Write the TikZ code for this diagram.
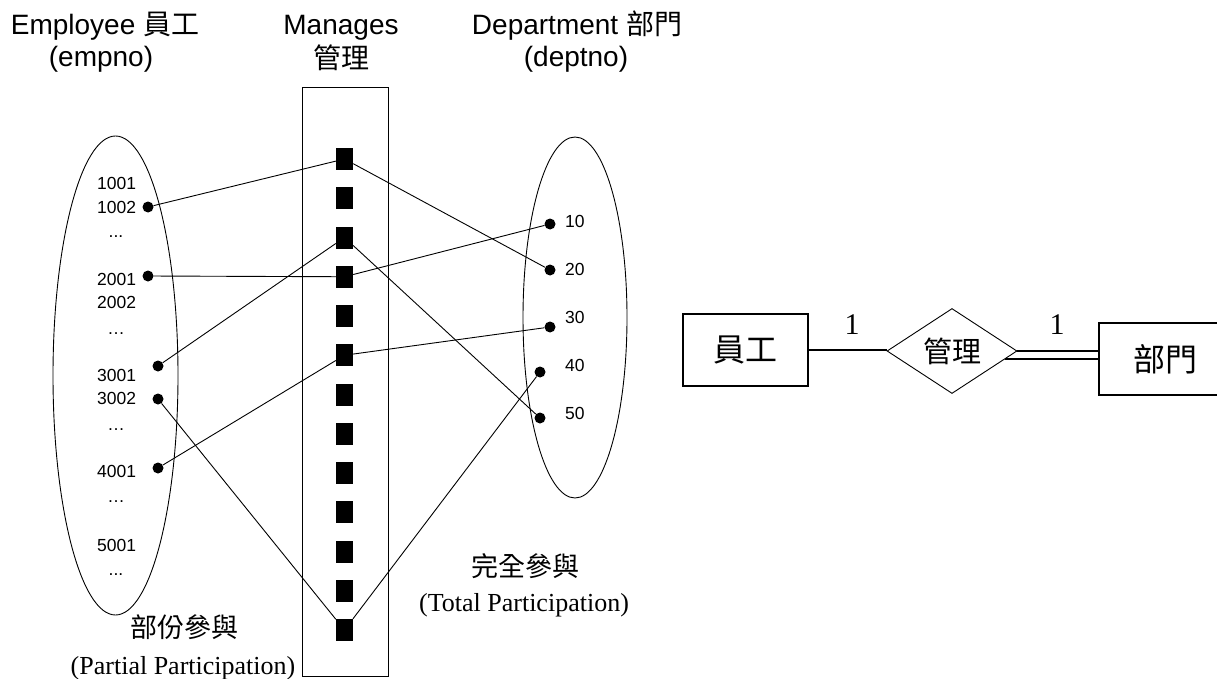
\documentclass[tikz,border=0pt]{standalone}
\usepackage{fontspec}
\setmainfont{Liberation Serif}
\setsansfont{Liberation Sans}
\newfontfamily\cjk{Noto Sans CJK TC}
\usetikzlibrary{shapes.geometric,calc}

\tikzset{
  lab/.style={font=\sffamily\fontsize{28}{32}\selectfont, inner sep=0, anchor=base},
  num/.style={font=\sffamily\fontsize{17.5}{20}\selectfont, inner sep=0, anchor=base west},
  ell/.style={num, anchor=base},
  pt/.style={circle, fill, inner sep=0, minimum size=11},
  sq/.style={fill, inner sep=0, minimum width=17, minimum height=22},
  link/.style={line width=0.9},
  set/.style={draw, ellipse, line width=0.9, inner sep=0},
  note/.style={inner sep=0, anchor=base},
  entity/.style={draw, line width=1.6, inner sep=0, font=\cjk\fontsize{32}{36}\selectfont},
  card/.style={inner sep=0, font=\fontsize{30}{34}\selectfont},
}

\begin{document}
\begin{tikzpicture}[x=1pt, y=-1pt]
\useasboundingbox (0,0) rectangle (1217,679);
\clip (0,0) rectangle (1217,679);

% column headings
\node[lab] (hEmp)  at (105,35) {Employee {\cjk 員工}};
\node[lab] (hEmp2) at (101,67) {(empno)};
\node[lab] (hMgr)  at (341,35) {Manages};
\node[lab] (hMgr2) at (341,69) {\cjk 管理};
\node[lab] (hDep)  at (577,35) {Department {\cjk 部門}};
\node[lab] (hDep2) at (576,67) {(deptno)};

% employee set
\node[set, minimum width=125, minimum height=479] (empSet) at (115.5,375.5) {};
\node[num] (n1001) at (97,189.5) {1001};
\node[num] (n1002) at (97,213) {1002};
\node[ell] (d1)    at (116,237) {...};
\node[num] (n2001) at (97,285) {2001};
\node[num] (n2002) at (97,308) {2002};
\node[ell] (d2)    at (116,334) {…};
\node[num] (n3001) at (97,381) {3001};
\node[num] (n3002) at (97,404) {3002};
\node[ell] (d3)    at (116,430) {…};
\node[num] (n4001) at (97,477) {4001};
\node[ell] (d4)    at (116,502) {…};
\node[num] (n5001) at (97,551) {5001};
\node[ell] (d5)    at (116,575) {...};

\node[pt] (e1002) at (148,207) {};
\node[pt] (e2001) at (148,276) {};
\node[pt] (e3001) at (158,366) {};
\node[pt] (e3002) at (158,399) {};
\node[pt] (e4001) at (158,468) {};

% relationship instances
\node[draw, line width=0.9, inner sep=0, minimum width=86, minimum height=589] (mgrBox) at (345,381.5) {};
\foreach \i in {1,...,13}
  \node[sq] (s\i) at (344.5,{159+39.25*(\i-1)}) {};

% department set
\node[set, minimum width=104, minimum height=361] (depSet) at (575,317.5) {};
\node[num] (n10) at (565,227) {10};
\node[num] (n20) at (565,275) {20};
\node[num] (n30) at (565,323) {30};
\node[num] (n40) at (565,371) {40};
\node[num] (n50) at (565,419) {50};

\node[pt] (d10) at (550,224) {};
\node[pt] (d20) at (550,270) {};
\node[pt] (d30) at (550,327) {};
\node[pt] (d40) at (540,372) {};
\node[pt] (d50) at (540,418) {};

% pairings
\draw[link] (e1002) -- (s1);
\draw[link] (s1) -- (d20);
\draw[link] (e2001) -- (s4);
\draw[link] (s4) -- (d10);
\draw[link] (e3001) -- (s3);
\draw[link] (s3) -- (d50);
\draw[link] (e4001) -- (s6);
\draw[link] (s6) -- (d30);
\draw[link] (e3002) -- (s13);
\draw[link] (s13) -- (d40);

% participation notes
\node[note, font=\cjk\fontsize{27}{30}\selectfont] (pp1) at (184,637) {部份參與};
\node[note, font=\fontsize{26}{30}\selectfont] (pp2) at (183,674) {(Partial Participation)};
\node[note, font=\cjk\fontsize{27}{30}\selectfont] (tp1) at (525,576) {完全參與};
\node[note, font=\fontsize{26}{30}\selectfont] (tp2) at (524,611) {(Total Participation)};

% ER diagram
\node[entity, minimum width=125, minimum height=72] (emp) at (745.5,350) {員工};
\node[draw, diamond, line width=0.9, inner sep=0, minimum width=130, minimum height=85,
      font=\cjk\fontsize{29}{32}\selectfont] (rel) at (952,351) {管理};
\node[entity, minimum width=132, minimum height=72] (dep) at (1165,359) {部門};

\draw[line width=1.6] (emp.east) -- (emp.east -| rel.west);
\draw[line width=1.6] (rel.east) -- (rel.east -| dep.west);
\coordinate (relLow) at ($(rel.east)!0.19!(rel.south)$);
\draw[line width=1.6] (relLow) -- (relLow -| dep.west);

\node[card] (c1) at (852,325) {1};
\node[card] (c2) at (1057,325) {1};
\end{tikzpicture}
\end{document}
